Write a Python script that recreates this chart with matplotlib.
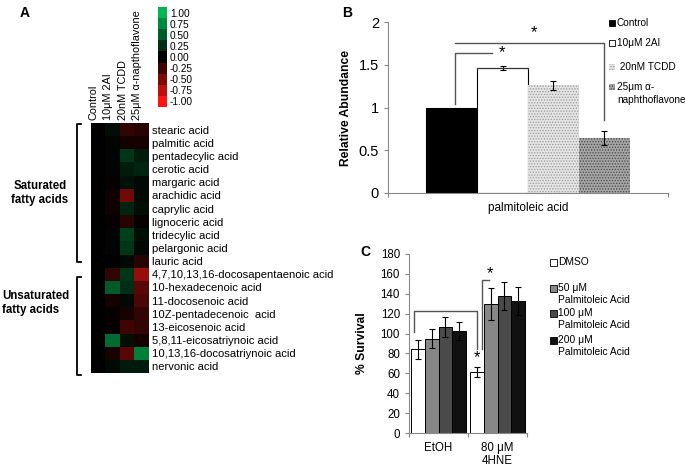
import numpy as np
import matplotlib
matplotlib.use('Agg')
import matplotlib.pyplot as plt
from matplotlib.colors import LinearSegmentedColormap
from matplotlib.patches import Rectangle

plt.rcParams['font.family'] = ['Liberation Sans', 'DejaVu Sans']
plt.rcParams['hatch.linewidth'] = 0.6

# ---- panel A data ----
acids = ['stearic acid', 'palmitic acid', 'pentadecylic acid', 'cerotic acid',
         'margaric acid', 'arachidic acid', 'caprylic acid', 'lignoceric acid',
         'tridecylic acid', 'pelargonic acid', 'lauric acid',
         '4,7,10,13,16-docosapentaenoic acid', '10-hexadecenoic acid',
         '11-docosenoic acid', '10Z-pentadecenoic  acid', '13-eicosenoic acid',
         '5,8,11-eicosatriynoic acid', '10,13,16-docosatriynoic acid',
         'nervonic acid']
treatments = ['Control', '10\u03bcM 2AI', '20nM TCDD', '25\u03bcM \u03b1-napthoflavone']
ctrl_col = [0.0] * 19
ai_col = [0.08, 0.03, 0.03, 0.03, -0.03, -0.05, -0.05, -0.03, 0.03, 0.03, 0.0,
          -0.2, 0.5, -0.08, -0.03, -0.03, 0.6, -0.1, 0.05]
tcdd_col = [-0.2, -0.08, 0.3, 0.15, 0.1, -0.45, 0.2, -0.15, 0.35, 0.3, 0.05,
            0.3, 0.25, 0.05, -0.1, -0.25, 0.08, -0.35, 0.15]
anf_col = [-0.15, -0.08, 0.15, 0.2, 0.05, 0.05, 0.08, -0.03, 0.08, 0.05, -0.15,
           -0.6, -0.35, -0.3, -0.2, -0.2, -0.08, 0.7, 0.15]
cb_levels = [1.0, 0.75, 0.5, 0.25, 0.0, -0.25, -0.5, -0.75, -1.0]

# ---- panel B data ----
b_groups = ['Control', '10\u03bcM 2AI', '20nM TCDD', '25\u03bcm \u03b1-\nnaphthoflavone']
b_vals = [1.0, 1.46, 1.26, 0.64]
b_err = [0.0, 0.02, 0.05, 0.08]

# ---- panel C data ----
c_cats = ['EtOH', '80 \u03bcM\n4HNE']
c_series = ['DMSO', '50 \u03bcM\nPalmitoleic Acid', '100 \u03bcM\nPalmitoleic Acid',
            '200 \u03bcM\nPalmitoleic Acid']
c_vals = [[84, 61], [95, 130], [107, 138], [103, 133]]
c_err = [[10, 5], [10, 16], [10, 14], [9, 14]]

W, H = 685, 466
fig = plt.figure(figsize=(W / 100, H / 100), dpi=100)


def px_axes(x0, y0, x1, y1, **kw):
    return fig.add_axes([x0 / W, 1 - y1 / H, (x1 - x0) / W, (y1 - y0) / H], **kw)


# ================= Panel A =================
cmap = LinearSegmentedColormap.from_list('rbg', ['#ff1414', '#000000', '#00b552'])
data = np.array([ctrl_col, ai_col, tcdd_col, anf_col]).T
axh = px_axes(91, 123, 149, 373)
axh.imshow(data, cmap=cmap, vmin=-1, vmax=1, aspect='auto', interpolation='nearest')
axh.yaxis.tick_right()
axh.set_yticks(range(len(acids)))
axh.set_yticklabels(acids, fontsize=8.1)
axh.xaxis.tick_top()
axh.set_xticks(np.arange(4) - 0.3)
axh.set_xticklabels(treatments, rotation=90, fontsize=7.8)
axh.tick_params(length=0, pad=2)
for s in axh.spines.values():
    s.set_visible(False)

axcb = px_axes(158, 7, 167, 107)
axcb.imshow(np.array(cb_levels)[:, None], cmap=cmap, vmin=-1, vmax=1,
            aspect='auto', interpolation='nearest')
axcb.yaxis.tick_right()
axcb.set_yticks(range(len(cb_levels)))
axcb.set_yticklabels(['%.2f' % v for v in cb_levels], fontsize=7.3)
axcb.set_xticks([])
axcb.tick_params(length=0, pad=2)
for s in axcb.spines.values():
    s.set_visible(False)

# overlay for annotations in pixel coords
ov = px_axes(0, 0, W, H, zorder=10)
ov.set_xlim(0, W)
ov.set_ylim(H, 0)
ov.axis('off')
ov.patch.set_alpha(0)

ov.text(25, 13, 'A', fontsize=10, fontweight='bold', ha='center', va='center')
ov.text(347, 13, 'B', fontsize=10, fontweight='bold', ha='center', va='center')
ov.text(365, 252, 'C', fontsize=10, fontweight='bold', ha='center', va='center')

for y0, y1 in [(124, 262), (277, 375)]:
    ov.plot([81, 77, 77, 81], [y0, y0, y1, y1], color='black', lw=1.3)
ov.text(40, 193, 'Saturated\nfatty acids', fontsize=8.3, fontweight='bold',
        ha='center', va='center', linespacing=1.2)
ov.text(2, 303, 'Unsaturated\nfatty acids', fontsize=8.3, fontweight='bold',
        ha='left', va='center', linespacing=1.2)

# ================= Panel B =================
axb = px_axes(388, 22, 668, 193)
w = 0.182
xs = (np.arange(4) - 1.5) * w
b_face = ['black', 'white', '#e4e4e4', '#a4a4a4']
b_edge = ['black', 'black', '#9a9a9a', '#4a4a4a']
b_hatch = [None, None, '......', '......']
for i in range(4):
    axb.bar(xs[i], b_vals[i], width=w, color=b_face[i], edgecolor=b_edge[i],
            hatch=b_hatch[i], linewidth=0.8 if i < 2 else 0)
    if b_err[i] > 0:
        axb.errorbar(xs[i], b_vals[i], yerr=b_err[i], fmt='none', ecolor='black',
                     elinewidth=0.8, capsize=2.5, capthick=0.8)
axb.set_xlim(-0.5, 0.5)
axb.set_ylim(0, 2)
axb.set_yticks([0, 0.5, 1, 1.5, 2])
axb.set_yticklabels(['0', '0.5', '1', '1.5', '2'], fontsize=10.5)
axb.set_xticks([-0.5, 0.5])
axb.set_xticklabels(['', ''])
axb.tick_params(axis='both', color='#888888', length=3)
for s in ['top', 'right']:
    axb.spines[s].set_visible(False)
for s in ['left', 'bottom']:
    axb.spines[s].set_color('#888888')
axb.text(0, -0.1, 'palmitoleic acid', fontsize=8.5, ha='center', va='top')
axb.set_ylabel('Relative Abundance', fontsize=8.7, fontweight='bold')
axb.yaxis.set_label_coords(-0.13, 0.5)

# significance brackets
sig_c = '#555555'
axb.plot([xs[0] + 0.012] * 2 + [-0.129], [1.04, 1.64, 1.64], color=sig_c, lw=1)
axb.text(-0.093, 1.64, '*', fontsize=12, ha='center', va='center')
axb.plot([xs[0] + 0.012, xs[3], xs[3]], [1.755, 1.755, 0.85], color=sig_c, lw=1)
axb.text(0.02, 1.88, '*', fontsize=12, ha='center', va='center')
axb.plot([xs[1] - w / 2, xs[1] - w / 2, xs[1] + w / 2, xs[1] + w / 2],
         [b_vals[1] - 0.01, b_vals[1], b_vals[1], b_vals[1] - 0.01], color='#333333', lw=0.8)

# legend B
leg_y = [23, 43, 67, 87]
leg_txt = ['Control', '10\u03bcM 2AI', ' 20nM TCDD', '25\u03bcm \u03b1-']
for i in range(4):
    ov.add_patch(Rectangle((609, leg_y[i] - 3), 6, 6, facecolor=b_face[i],
                           edgecolor='black' if i < 2 else b_edge[i],
                           hatch=b_hatch[i], lw=0.6 if i < 2 else 0))
    ov.text(617, leg_y[i], leg_txt[i], fontsize=7.2, ha='left', va='center')
ov.text(617, 100, 'naphthoflavone', fontsize=7.2, ha='left', va='center')

# ================= Panel C =================
axc = px_axes(409, 254, 527, 433)
wc = 0.237
c_face = ['white', '#878787', '#4a4a4a', '#111111']
for i in range(4):
    xpos = np.arange(2) + (i - 1.5) * wc
    axc.bar(xpos, c_vals[i], width=wc, color=c_face[i], edgecolor='black', linewidth=0.7)
    axc.errorbar(xpos, c_vals[i], yerr=c_err[i], fmt='none', ecolor='black',
                 elinewidth=0.8, capsize=2.5, capthick=0.8)
axc.set_xlim(-0.5, 1.5)
axc.set_ylim(0, 180)
axc.set_yticks(np.arange(0, 181, 20))
axc.tick_params(axis='y', labelsize=8.3, color='#888888', length=3)
axc.set_xticks([-0.5, 0.5, 1.5])
axc.set_xticklabels(['', '', ''])
axc.tick_params(axis='x', color='#888888', length=3)
for s in ['top', 'right']:
    axc.spines[s].set_visible(False)
for s in ['left', 'bottom']:
    axc.spines[s].set_color('#888888')
for k, lab in enumerate(c_cats):
    axc.text(k, -9, lab, fontsize=8.3, ha='center', va='top', linespacing=1.1)
axc.set_ylabel('% Survival', fontsize=8.7, fontweight='bold')
axc.yaxis.set_label_coords(-0.35, 0.5)

d4 = 1 - 1.5 * wc
axc.plot([-0.41, -0.41, d4, d4], [102, 123, 123, 84], color=sig_c, lw=1)
axc.text(d4, 76, '*', fontsize=12, ha='center', va='center')
axc.plot([0.737, 0.737, 0.856], [84, 154, 154], color=sig_c, lw=1)
axc.text(0.88, 160, '*', fontsize=12, ha='center', va='center')

# legend C
lc_y = [262, 288, 313, 340]
for i in range(4):
    ov.add_patch(Rectangle((550, lc_y[i] - 3.5), 7, 7, facecolor=c_face[i],
                           edgecolor='black', lw=0.6))
    lines = c_series[i].split('\n')
    ov.text(558, lc_y[i], lines[0], fontsize=7.4, ha='left', va='center')
    if len(lines) > 1:
        ov.text(558, lc_y[i] + 12, lines[1], fontsize=7.4, ha='left', va='center')

fig.savefig('out.png', dpi=100)
